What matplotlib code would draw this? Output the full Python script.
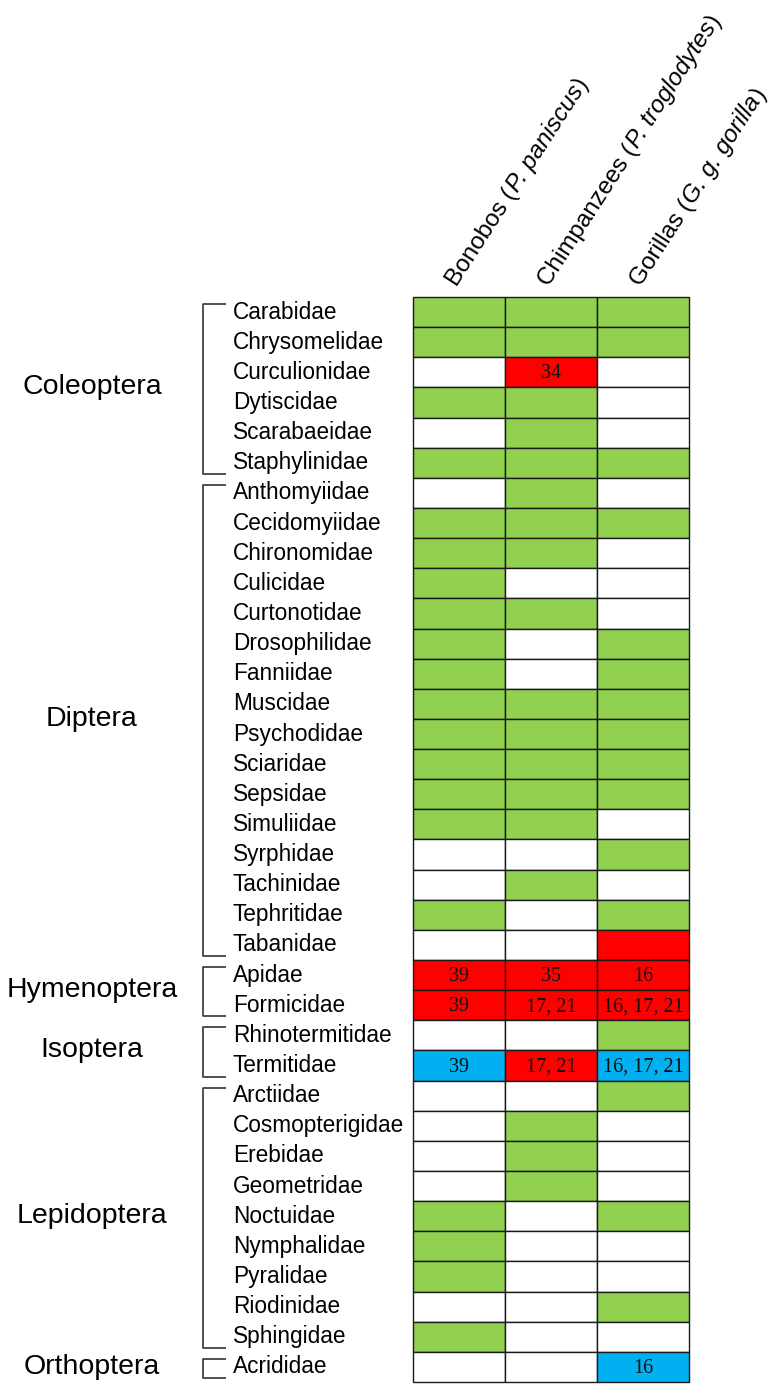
import math
import matplotlib
matplotlib.use("Agg")
import matplotlib.pyplot as plt
from matplotlib.patches import Rectangle

plt.rcParams['font.family'] = ['Liberation Sans', 'DejaVu Sans']

# ---------------- data ----------------
column_parts = [
    [("Bonobos (", "normal"), ("P. paniscus", "italic"), (")", "normal")],
    [("Chimpanzees (", "normal"), ("P. troglodytes", "italic"), (")", "normal")],
    [("Gorillas (", "normal"), ("G. g. gorilla", "italic"), (")", "normal")],
]

orders = ["Coleoptera", "Diptera", "Hymenoptera", "Isoptera", "Lepidoptera", "Orthoptera"]
order_sizes = [6, 16, 2, 2, 9, 1]

families = ["Carabidae", "Chrysomelidae", "Curculionidae", "Dytiscidae", "Scarabaeidae",
            "Staphylinidae",
            "Anthomyiidae", "Cecidomyiidae", "Chironomidae", "Culicidae", "Curtonotidae",
            "Drosophilidae", "Fanniidae", "Muscidae", "Psychodidae", "Sciaridae", "Sepsidae",
            "Simuliidae", "Syrphidae", "Tachinidae", "Tephritidae", "Tabanidae",
            "Apidae", "Formicidae",
            "Rhinotermitidae", "Termitidae",
            "Arctiidae", "Cosmopterigidae", "Erebidae", "Geometridae", "Noctuidae",
            "Nymphalidae", "Pyralidae", "Riodinidae", "Sphingidae",
            "Acrididae"]

# 0 = absent (white), 1 = green, 2 = red, 3 = blue
status = [
    [1, 1, 1], [1, 1, 1], [0, 2, 0], [1, 1, 0], [0, 1, 0], [1, 1, 1],
    [0, 1, 0], [1, 1, 1], [1, 1, 0], [1, 0, 0], [1, 1, 0], [1, 0, 1], [1, 0, 1],
    [1, 1, 1], [1, 1, 1], [1, 1, 1], [1, 1, 1], [1, 1, 0], [0, 0, 1], [0, 1, 0],
    [1, 0, 1], [0, 0, 2],
    [2, 2, 2], [2, 2, 2],
    [0, 0, 1], [3, 2, 3],
    [0, 0, 1], [0, 1, 0], [0, 1, 0], [0, 1, 0], [1, 0, 1], [1, 0, 0], [1, 0, 0],
    [0, 0, 1], [1, 0, 0],
    [0, 0, 3],
]

refs = {
    ("Curculionidae", 1): "34",
    ("Apidae", 0): "39", ("Apidae", 1): "35", ("Apidae", 2): "16",
    ("Formicidae", 0): "39", ("Formicidae", 1): "17, 21", ("Formicidae", 2): "16, 17, 21",
    ("Termitidae", 0): "39", ("Termitidae", 1): "17, 21", ("Termitidae", 2): "16, 17, 21",
    ("Acrididae", 2): "16",
}

palette = {0: "#FFFFFF", 1: "#92D050", 2: "#FF0000", 3: "#00B0F0"}

# ---------------- figure ----------------
W, H = 774, 1390
fig = plt.figure(figsize=(W / 100, H / 100), dpi=100)
gx0, gx1, gy0, gy1 = 413, 689, 297, 1382
ax = fig.add_axes([gx0 / W, 1 - gy1 / H, (gx1 - gx0) / W, (gy1 - gy0) / H])
n = len(families)
ax.set_xlim(0, 3)
ax.set_ylim(n, 0)
ax.axis("off")

colw = (gx1 - gx0) / 3.0     # px per column unit
rowh = (gy1 - gy0) / n       # px per row unit

for r, fam in enumerate(families):
    for c in range(3):
        ax.add_patch(Rectangle((c, r), 1, 1, facecolor=palette[status[r][c]],
                               edgecolor="#1a1a1a", linewidth=1.0, clip_on=False))
        key = (fam, c)
        if key in refs:
            ax.text(c + 0.5, r + 0.55, refs[key], ha="center", va="center",
                    fontsize=14.5, family="Liberation Serif", color="#111111")
    ax.text(-(gx0 - 233) / colw, r + 0.5, fam, ha="left", va="center",
            fontsize=16.3, clip_on=False)

# column headers (rotated, mixed upright / italic pieces)
renderer = fig.canvas.get_renderer()
angle = 57
hfs = 17.5
ca, sa = math.cos(math.radians(angle)), math.sin(math.radians(angle))
for c, parts in enumerate(column_parts):
    x_px = gx0 + (c + 0.5) * colw - 2
    y_px = gy0 - 10
    for s, style in parts:
        fig.text(x_px / W, 1 - y_px / H, s, rotation=angle, rotation_mode="anchor",
                 ha="left", va="baseline", fontsize=hfs, style=style)
        tmp = fig.text(0, 0, s, fontsize=hfs, style=style)
        w = tmp.get_window_extent(renderer).width + 1.0
        tmp.remove()
        x_px += w * ca
        y_px -= w * sa

# order brackets and labels
xv = -(gx0 - 203) / colw
xh = -(gx0 - 226) / colw
xo = -(gx0 - 92) / colw
start = 0
for name, size in zip(orders, order_sizes):
    top = start + 0.5 - 8 / rowh
    bot = start + size - 0.5 + 11 / rowh
    ax.plot([xh, xv, xv, xh], [top, top, bot, bot], color="#333333", lw=1.2,
            clip_on=False, solid_capstyle="butt")
    ax.text(xo, start + size / 2.0, name, ha="center", va="center",
            fontsize=20.5, clip_on=False)
    start += size

fig.savefig("out.png", dpi=100, facecolor="white")
